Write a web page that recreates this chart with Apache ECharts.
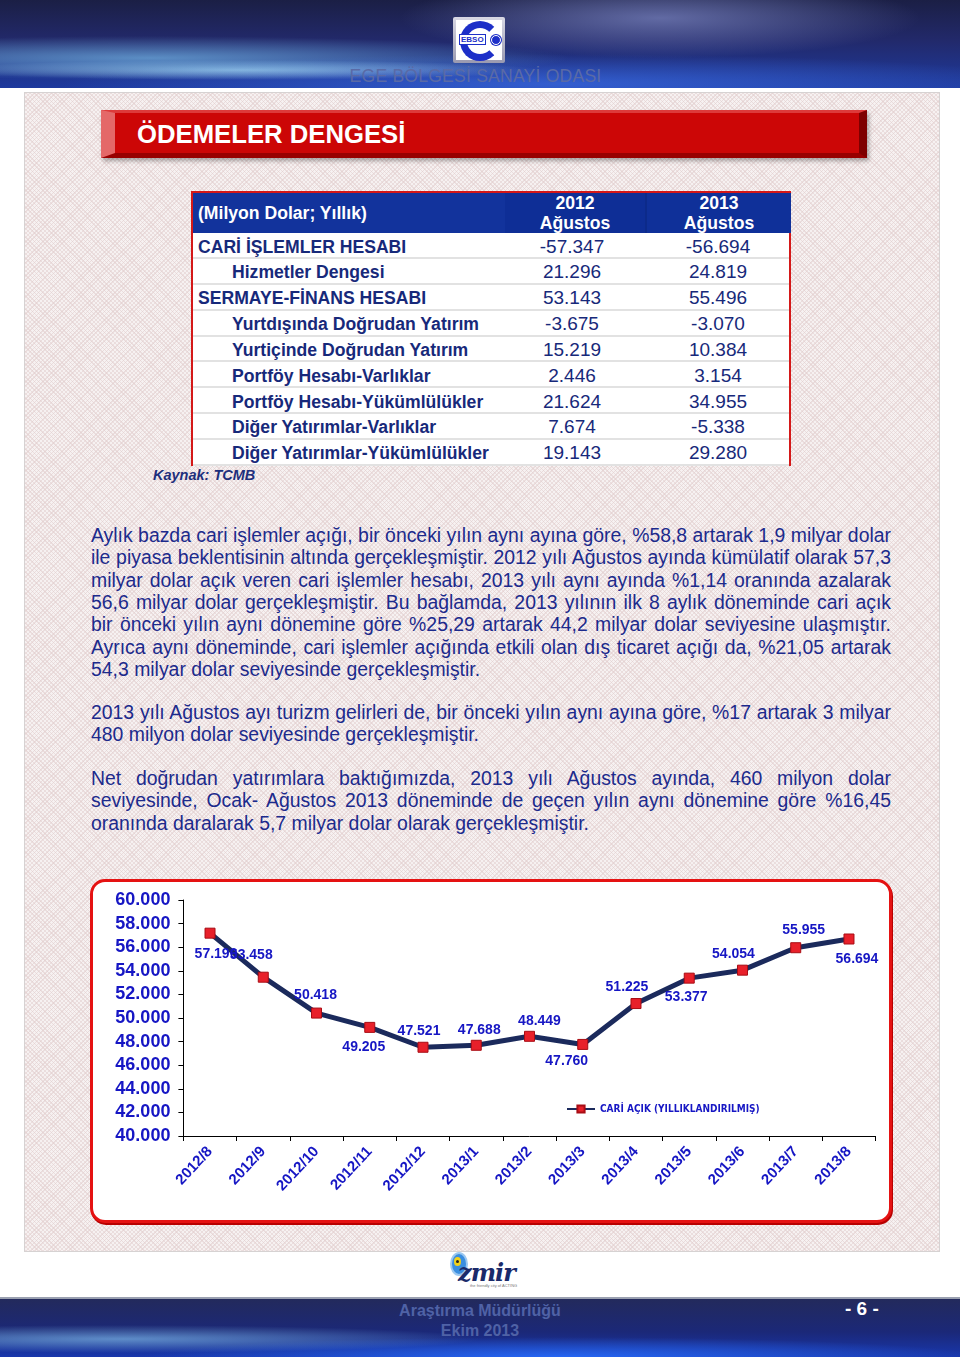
<!DOCTYPE html>
<html>
<head>
<meta charset="utf-8">
<script src="https://cdn.jsdelivr.net/npm/echarts@6/dist/echarts.min.js"></script>
<style>
  html, body { margin:0; padding:0; }
  body { width:960px; height:1357px; position:relative; background:#fff; font-family:"Liberation Sans", Arial, sans-serif; overflow:hidden; }
  .abs { position:absolute; }
  #header { left:0; top:0; width:960px; height:88px;
    background:
      radial-gradient(ellipse 260px 40px at 660px 18px, rgba(120,130,190,0.75), rgba(120,130,190,0) 100%),
      radial-gradient(ellipse 420px 22px at 150px 58px, rgba(140,220,255,0.55), rgba(140,220,255,0) 100%),
      radial-gradient(ellipse 300px 10px at 240px 70px, rgba(190,240,255,0.6), rgba(190,240,255,0) 100%),
      radial-gradient(ellipse 500px 30px at 560px 84px, rgba(60,110,230,0.7), rgba(60,110,230,0) 100%),
      linear-gradient(180deg, #1b1f45 0%, #22296a 45%, #1e3a9e 100%);
  }
  #ebso { left:453px; top:17px; width:52px; height:46px; background:linear-gradient(#d8d8e4,#9a9ab0); border-radius:2px; }
  #ebso .in { position:absolute; left:3px; top:3px; width:46px; height:40px; background:#fff; }
  #ebso .c { position:absolute; left:4px; top:1px; width:26px; height:26px; border:7px solid #1d2fc8; border-radius:50%; border-right-color:transparent; }
  #ebso .t { position:absolute; left:3px; top:14px; font:bold 8px "Liberation Sans", Arial; color:#1d2fc8; background:#fff; padding:0 1px; border:1px solid #1d2fc8; }
  #ebso .d { position:absolute; left:35px; top:15px; width:8px; height:8px; border-radius:50%; background:#1d2fc8; border:1px solid #fff; box-shadow:0 0 0 1px #1d2fc8; }
  #ebsoName { left:0; width:951px; top:66px; text-align:center; color:#5a6aa6; font-size:17.6px; letter-spacing:0.2px; }
  #panel { left:24px; top:92px; width:914px; height:1158px; border:1px solid #d6d2d2;
    background-color:#f6f1f1;
    background-image:
      repeating-linear-gradient(45deg, rgba(225,205,205,0.55) 0 1px, transparent 1px 3px),
      repeating-linear-gradient(-45deg, rgba(225,205,205,0.55) 0 1px, transparent 1px 3px);
  }
  #banner { left:101px; top:110px; width:766px; height:48px; box-sizing:border-box;
    background:#cc0606; border-left:14px solid #e46868; border-top:3px solid #dd3a3a; border-right:8px solid #7e0000; border-bottom:5px solid #980000;
    box-shadow:2px 3px 4px rgba(0,0,0,0.3); }
  #banner span { position:absolute; left:22px; top:7px; color:#fff; font-weight:bold; font-size:25.7px; }
  #tbl { left:191px; top:191px; width:600px; height:275px; box-sizing:border-box; border:2px solid #d41818; background:#fff; }
  #tbl .hd { position:absolute; left:0; top:0; width:596px; height:40px; background:#0f2f98; color:#fff; font-weight:bold; font-size:17.6px; }
  #tbl .row { position:absolute; left:0; width:596px; height:26px; border-bottom:2px solid #e2e2e2; box-sizing:border-box; color:#17297a; }
  #tbl .lab { position:absolute; top:1.5px; line-height:24px; font-weight:bold; font-size:17.6px; white-space:nowrap; }
  #tbl .num { position:absolute; top:1.5px; line-height:24px; font-size:19px; text-align:center; }
  #kaynak { left:153px; top:467px; font:italic bold 14.5px "Liberation Sans", Arial; color:#1e2f7c; }
  .txt { position:absolute; left:91px; width:800px; height:22.4px; line-height:22.4px; font-size:19.4px; color:#1c2a8c; white-space:nowrap; }
  .j { text-align:justify; text-align-last:justify; }
  #frame { left:90px; top:879px; width:802px; height:344px; box-sizing:border-box; border:3px solid #e51212; border-radius:15px; background:#fff; box-shadow:1px 2px 0 #b80000; }
  #chart { left:90px; top:879px; width:802px; height:344px; }
  #izmir { left:446px; top:1250px; width:80px; height:42px; }
  #footer { left:0; top:1297px; width:960px; height:60px; border-top:2px solid #9aa0b0;
    background:
      radial-gradient(ellipse 360px 14px at 120px 40px, rgba(150,220,255,0.55), rgba(150,220,255,0) 100%),
      radial-gradient(ellipse 420px 20px at 560px 58px, rgba(40,110,255,0.85), rgba(40,110,255,0) 100%),
      linear-gradient(180deg, #232a5c 0%, #1b2878 55%, #1838b0 100%); }
  #foot1 { left:0; width:960px; top:1301px; text-align:center; color:#4f62a6; font-weight:bold; font-size:16px; line-height:20px; }
  #page { left:845px; top:1298px; color:#fff; font-weight:bold; font-size:19px; }
</style>
</head>
<body>
<div id="header" class="abs"></div>
<div id="ebso" class="abs"><div class="in"><div class="c"></div><div class="t">EBSO</div><div class="d"></div></div></div>
<div id="ebsoName" class="abs">EGE BÖLGESİ SANAYİ ODASI</div>
<div id="panel" class="abs"></div>
<div id="banner" class="abs"><span>ÖDEMELER DENGESİ</span></div>
<div id="tbl" class="abs"></div>
<div id="kaynak" class="abs">Kaynak: TCMB</div>
<div id="texts"></div>
<div id="frame" class="abs"></div>
<div id="chart" class="abs"></div>
<div id="izmir" class="abs">
  <div style="position:absolute;left:4px;top:2px;width:14px;height:20px;border-radius:50%;background:#3a8ee0;border:2px solid #9cc8f0;"></div>
  <div style="position:absolute;left:8px;top:7px;width:7px;height:9px;border-radius:50%;background:#f2d21a;"></div>
  <div style="position:absolute;left:10px;top:10px;width:3px;height:3px;border-radius:50%;background:#222;"></div>
  <div style="position:absolute;left:12px;top:8px;font:italic bold 24px 'DejaVu Serif', serif;color:#1a2a6a;letter-spacing:-1px;">zmir</div>
  <div style="position:absolute;left:24px;top:33px;font:4px Arial;color:#777;">the friendly city of ACTING</div>
</div>
<div id="footer" class="abs"></div>
<div id="foot1" class="abs">Araştırma Müdürlüğü<br>Ekim 2013</div>
<div id="page" class="abs">- 6 -</div>

<script>
// ---------- DATA ----------
const tableHeader = ['(Milyon Dolar; Yıllık)', '2012\nAğustos', '2013\nAğustos'];
const rowLabels = ['CARİ İŞLEMLER HESABI', 'Hizmetler Dengesi', 'SERMAYE-FİNANS HESABI',
  'Yurtdışında Doğrudan Yatırım', 'Yurtiçinde Doğrudan Yatırım', 'Portföy Hesabı-Varlıklar',
  'Portföy Hesabı-Yükümlülükler', 'Diğer Yatırımlar-Varlıklar', 'Diğer Yatırımlar-Yükümlülükler'];
const rowIndented = [false, true, false, true, true, true, true, true, true];
const values2012 = ['-57.347', '21.296', '53.143', '-3.675', '15.219', '2.446', '21.624', '7.674', '19.143'];
const values2013 = ['-56.694', '24.819', '55.496', '-3.070', '10.384', '3.154', '34.955', '-5.338', '29.280'];

const paragraph1 = [
  'Aylık bazda cari işlemler açığı, bir önceki yılın aynı ayına göre, %58,8 artarak 1,9 milyar dolar',
  'ile piyasa beklentisinin altında gerçekleşmiştir. 2012 yılı Ağustos ayında kümülatif olarak 57,3',
  'milyar dolar açık veren cari işlemler hesabı, 2013 yılı aynı ayında %1,14 oranında azalarak',
  '56,6 milyar dolar gerçekleşmiştir. Bu bağlamda, 2013 yılının ilk 8 aylık döneminde cari açık',
  'bir önceki yılın aynı dönemine göre %25,29 artarak 44,2 milyar dolar seviyesine ulaşmıştır.',
  'Ayrıca aynı döneminde, cari işlemler açığında etkili olan dış ticaret açığı da, %21,05 artarak',
  '54,3 milyar dolar seviyesinde gerçekleşmiştir.'];
const paragraph2 = [
  '2013 yılı Ağustos ayı turizm gelirleri de, bir önceki yılın aynı ayına göre, %17 artarak 3 milyar',
  '480 milyon dolar seviyesinde gerçekleşmiştir.'];
const paragraph3 = [
  'Net doğrudan yatırımlara baktığımızda, 2013 yılı Ağustos ayında, 460 milyon dolar',
  'seviyesinde, Ocak- Ağustos 2013 döneminde de geçen yılın aynı dönemine göre %16,45',
  'oranında daralarak 5,7 milyar dolar olarak gerçekleşmiştir.'];

const months = ['2012/8', '2012/9', '2012/10', '2012/11', '2012/12', '2013/1', '2013/2',
  '2013/3', '2013/4', '2013/5', '2013/6', '2013/7', '2013/8'];
const cariAcik = [57190, 53458, 50418, 49205, 47521, 47688, 48449, 47760, 51225, 53377, 54054, 55955, 56694];
const seriesName = 'CARİ AÇIK (YILLIKLANDIRILMIŞ)';

// ---------- LAYOUT (label nudges, not data) ----------
const labelNudge = [[6, 21], [-12, -22], [-1, -18], [-6, 20], [-4, -16], [3, -15], [10, -15],
  [-16, 17], [-9, -16], [-3, 19], [-9, -16], [8, -18], [8, 20]];

// ---------- TABLE ----------
const tbl = document.getElementById('tbl');
const hd = document.createElement('div'); hd.className = 'hd';
hd.innerHTML =
  '<div style="position:absolute;left:0;top:0;width:312px;height:40px;background:#12339c;"></div>' +
  '<div style="position:absolute;left:5px;top:10px;">' + tableHeader[0] + '</div>' +
  '<div style="position:absolute;left:312px;top:0;width:140px;height:40px;background:#0e2e96;text-align:center;line-height:20px;white-space:pre;">' + tableHeader[1] + '</div>' +
  '<div style="position:absolute;left:452px;top:0;width:144px;height:40px;background:#0f3099;text-align:center;line-height:20px;white-space:pre;border-left:2px solid #0c2a8a;">' + tableHeader[2] + '</div>';
tbl.appendChild(hd);
rowLabels.forEach((lab, i) => {
  const r = document.createElement('div'); r.className = 'row';
  r.style.top = (40 + i * 25.85) + 'px';
  r.innerHTML =
    '<div class="lab" style="left:' + (rowIndented[i] ? 39 : 5) + 'px">' + lab + '</div>' +
    '<div class="num" style="left:309px;width:140px;">' + values2012[i] + '</div>' +
    '<div class="num" style="left:452px;width:146px;">' + values2013[i] + '</div>';
  tbl.appendChild(r);
});

// ---------- TEXT ----------
const texts = document.getElementById('texts');
function addPara(lines, top) {
  lines.forEach((t, i) => {
    const d = document.createElement('div');
    d.className = 'txt' + (i < lines.length - 1 ? ' j' : '');
    d.style.top = (top + i * 22.35) + 'px';
    d.textContent = t;
    texts.appendChild(d);
  });
}
addPara(paragraph1, 524);
addPara(paragraph2, 701);
addPara(paragraph3, 767);

// ---------- CHART ----------
function fmt(v) {
  const th = Math.floor(v / 1000), r = Math.round(v % 1000);
  return th + '.' + String(r).padStart(3, '0');
}
const blue = '#1616c4';
const chart = echarts.init(document.getElementById('chart'), null, { renderer: 'canvas' });
chart.setOption({
  animation: false,
  backgroundColor: 'transparent',
  grid: { left: 93.4, right: 16.4, top: 21, bottom: 87, containLabel: false, outerBoundsMode: 'none' },
  legend: {
    left: 471, top: 220, itemWidth: 28, itemHeight: 9, itemGap: 3,
    textStyle: { color: blue, fontWeight: 'bold', fontSize: 10, fontFamily: '"Liberation Sans Narrow", "DejaVu Sans Condensed", Arial' },
    data: [seriesName]
  },
  xAxis: {
    type: 'category', data: months, boundaryGap: true,
    axisLine: { lineStyle: { color: '#000', width: 1 } },
    axisTick: { show: true, length: 5, lineStyle: { color: '#000' } },
    axisLabel: { interval: 0, rotate: 47, margin: 13, color: blue, fontWeight: 'bold', fontSize: 15, fontFamily: '"Liberation Sans", Arial' },
    splitLine: { show: false }
  },
  yAxis: {
    type: 'value', min: 40000, max: 60000, interval: 2000,
    axisLine: { show: true, lineStyle: { color: '#000', width: 1 } },
    axisTick: { show: true, length: 5, lineStyle: { color: '#000' } },
    axisLabel: { formatter: fmt, margin: 13, color: blue, fontWeight: 'bold', fontSize: 18, fontFamily: '"Liberation Sans", Arial' },
    splitLine: { show: false }
  },
  series: [{
    name: seriesName, type: 'line',
    data: cariAcik.map((v, i) => ({
      value: v,
      label: { offset: labelNudge[i] }
    })),
    lineStyle: { color: '#1b2a5c', width: 5 },
    itemStyle: { color: '#e8202a', borderColor: '#a80d14', borderWidth: 1 },
    symbol: 'rect', symbolSize: 10, showAllSymbol: true,
    label: {
      show: true, position: 'inside', formatter: p => fmt(p.value),
      color: blue, fontWeight: 'bold', fontSize: 14, fontFamily: '"Liberation Sans", Arial'
    },
    emphasis: { disabled: true }
  }]
});
</script>
</body>
</html>
